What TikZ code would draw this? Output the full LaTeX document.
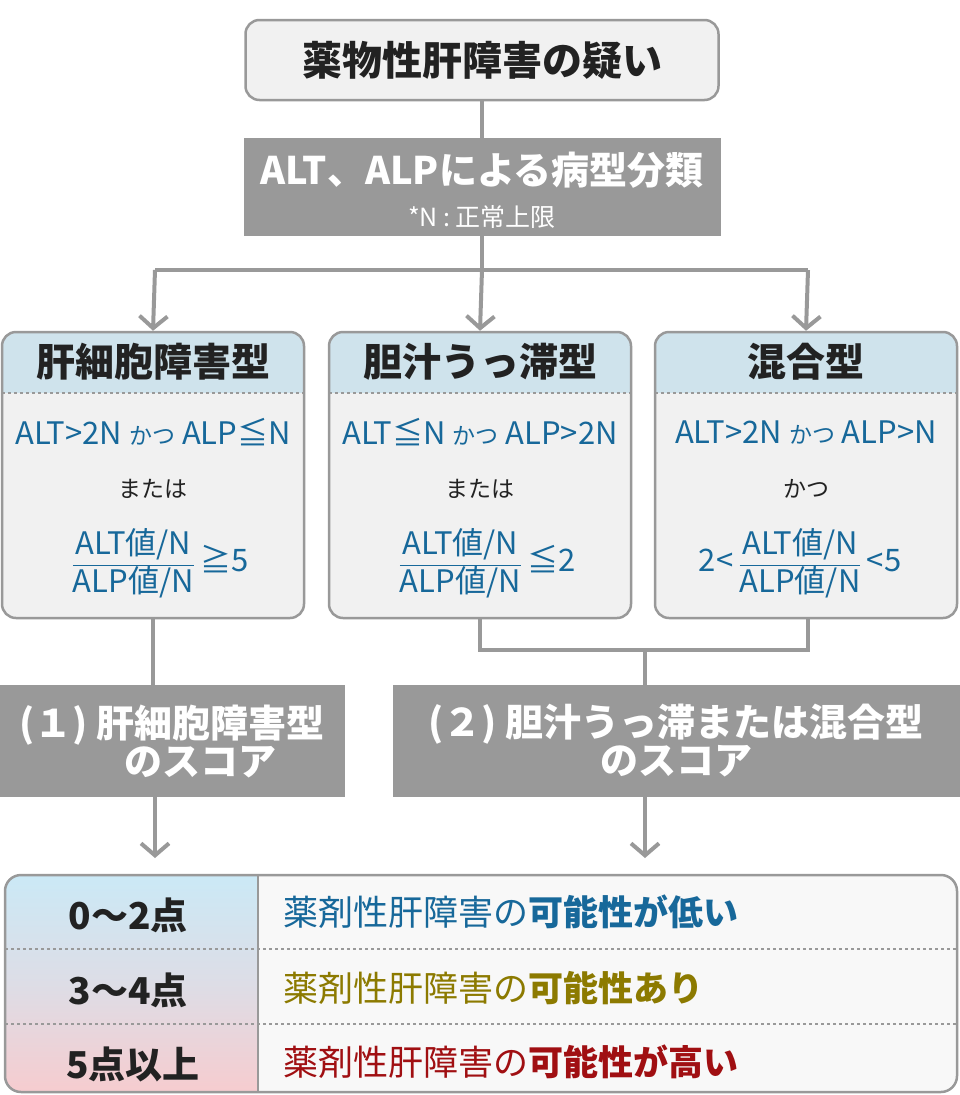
\documentclass[tikz,border=0pt]{standalone}
\usepackage{fontspec}
\setmainfont{Noto Sans CJK JP}
\usetikzlibrary{arrows.meta}
\definecolor{linegray}{HTML}{999999}
\definecolor{boxfill}{HTML}{F1F1F1}
\definecolor{headblue}{HTML}{CFE3EC}
\definecolor{tabblue}{HTML}{CBE9F6}
\definecolor{tabmid}{HTML}{DDDDE6}
\definecolor{tabpink}{HTML}{F6CCCF}
\definecolor{textblue}{HTML}{17689A}
\definecolor{textolive}{HTML}{8C7A00}
\definecolor{textred}{HTML}{A00F12}
\definecolor{textdark}{HTML}{222222}
\newcommand\fs[1]{\fontsize{#1pt}{#1pt}\selectfont}
\newcommand\fracAB{$\displaystyle\frac{\hbox{\fs{31}ALT値/N}}{\hbox{\fs{31}ALP値/N}}$}
\tikzset{
  conn/.style={draw=linegray, line width=4pt},
  arr/.style={conn, -{Straight Barb[length=12pt,width=28pt,line width=4pt]}},
  rbox/.style={draw=linegray, line width=2.5pt, fill=boxfill, rounded corners=14pt},
  gbox/.style={fill=linegray, text=white, font=\fs{38}\bfseries, align=center},
  head/.style={font=\fs{39}\bfseries, text=textdark},
  cond/.style={font=\fs{31}, text=textblue},
  mid/.style={font=\fs{23}, text=textdark},
  score/.style={font=\fs{37}\bfseries, text=textdark},
  verdict/.style={anchor=west, font=\fs{35}},
}
\begin{document}
\begin{tikzpicture}[x=1pt,y=-1pt]
\useasboundingbox (0,0) rectangle (960,1095);

% top
\node (top) [rbox, minimum width=473pt, minimum height=80pt, font=\fs{40}\bfseries, text=textdark] at (482,60) {薬物性肝障害の疑い};
\node (cls) [gbox, minimum width=477pt, minimum height=98pt] at (482,187) {};
\node (clst) [gbox] at (482,170) {ALT、ALPによる病型分類};
\node (clsn) [font=\fs{25}, text=white] at (482,217) {*N : 正常上限};
\draw [conn] (top.south) -- (cls.north);

\coordinate (split) at (482,270);
\coordinate (sl) at (155,270);
\coordinate (sr) at (808,270);
\draw [conn] (cls.south) -- (split);
\draw [conn] (sl) -- (sr);

% three types
\foreach \n/\x/\t in {ka/153/肝細胞障害型, ta/480/胆汁うっ滞型, mi/806/混合型}{
  \begin{scope}
    \path [clip, rounded corners=14pt] (\x-151,332) rectangle (\x+151,618);
    \fill [boxfill] (\x-151,332) rectangle (\x+151,618);
    \fill [headblue] (\x-151,332) rectangle (\x+151,393);
  \end{scope}
  \draw [linegray, line width=2pt, dashed] (\x-151,393) -- (\x+151,393);
  \node (\n) [rbox, fill=none, minimum width=302pt, minimum height=286pt] at (\x,475) {};
  \node [head] at (\x,362) {\t};
}
\draw [arr] (sl) -- (ka.north);
\draw [arr] (split) -- (ta.north);
\draw [arr] (sr) -- (mi.north);

\node [cond] at (153,432) {ALT>2N {\fs{23}かつ} ALP≦N};
\node [mid] at (153,489) {または};
\node [cond] at (160,563) {\fracAB\,≧5};
\node [cond] at (480,432) {ALT≦N {\fs{23}かつ} ALP>2N};
\node [mid] at (480,489) {または};
\node [cond] at (487,563) {\fracAB\,≦2};
\node [cond] at (806,432) {ALT>2N {\fs{23}かつ} ALP>N};
\node [mid] at (806,489) {かつ};
\node [cond] at (800,563) {2<\,\fracAB\,<5};

% scores
\node (sc1) [gbox, minimum width=345pt, minimum height=112pt] at (172,741) {(１) 肝細胞障害型\\\hspace{1.5em}のスコア};
\node (sc2) [gbox, minimum width=567pt, minimum height=112pt] at (676,741) {(２) 胆汁うっ滞または混合型\\のスコア};
\draw [conn] (ka.south) -- (ka.south |- sc1.north);
\coordinate (jl) at (480,650);
\coordinate (jr) at (808,650);
\draw [conn] (ta.south) -- (jl) -- (jr) -- (mi.south -| jr);
\draw [conn] (645,650) -- (645,685);

% table
\coordinate (t1) at (155,858);
\coordinate (t2) at (645,858);
\draw [arr] (sc1.south -| t1) -- (t1);
\draw [arr] (sc2.south -| t2) -- (t2);
\begin{scope}
  \path [clip, rounded corners=16pt] (5,875) rectangle (957,1092);
  \fill [fill=white!50!boxfill] (5,875) rectangle (957,1092);
  \shade [top color=tabblue, bottom color=tabpink, middle color=tabmid] (5,875) rectangle (258,1092);
\end{scope}
\draw [linegray, line width=2pt, dashed] (5,949) -- (957,949);
\draw [linegray, line width=2pt, dashed] (5,1024) -- (957,1024);
\draw [linegray, line width=2.5pt] (258,875) -- (258,1092);
\node (tab) [draw=linegray, line width=2.5pt, rounded corners=16pt, minimum width=952pt, minimum height=217pt] at (481,983.5) {};
\node [score] at (128,915) {0～2点};
\node [score] at (128,990) {3～4点};
\node [score] at (133,1064) {5点以上};
\node [verdict, text=textblue] at (280,912) {薬剤性肝障害の\textbf{可能性が低い}};
\node [verdict, text=textolive] at (280,988) {薬剤性肝障害の\textbf{可能性あり}};
\node [verdict, text=textred] at (280,1062) {薬剤性肝障害の\textbf{可能性が高い}};
\end{tikzpicture}
\end{document}
